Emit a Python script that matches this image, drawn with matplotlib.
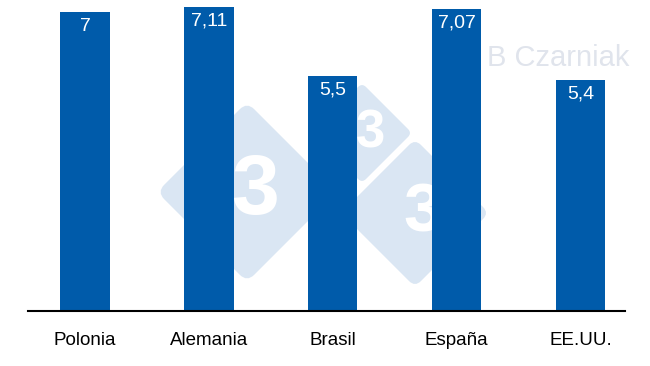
import matplotlib
matplotlib.use("Agg")
import matplotlib.pyplot as plt
from matplotlib.patches import FancyBboxPatch
from matplotlib.transforms import Affine2D

plt.rcParams['font.family'] = ['Liberation Sans', 'DejaVu Sans']

countries = ['Polonia', 'Alemania', 'Brasil', 'España', 'EE.UU.']
values = [7, 7.11, 5.5, 7.07, 5.4]
value_labels = ['7', '7,11', '5,5', '7,07', '5,4']

bar_color = '#005baa'
mark_color = '#dae6f3'

fig = plt.figure(figsize=(6.5, 3.66), dpi=100)

# watermark layer, in pixel coordinates
bg = fig.add_axes([0, 0, 1, 1], zorder=0)
bg.set_xlim(0, 650)
bg.set_ylim(366, 0)
bg.axis('off')

for cx, cy, half, fs in [(247, 192, 90, 62), (362, 133, 50, 38), (415, 213, 74, 50)]:
    side = half * 2 ** 0.5
    box = FancyBboxPatch((-side / 2, -side / 2), side, side,
                         boxstyle='round,pad=0,rounding_size=%f' % (side * 0.08),
                         fc=mark_color, ec='none',
                         transform=Affine2D().rotate_deg(45).translate(cx, cy) + bg.transData)
    bg.add_patch(box)
    bg.text(cx + 8, cy, '3', color='white', fontsize=fs, fontweight='bold',
            ha='center', va='center')

bg.text(558, 58, 'B Czarniak', color='#e0e4ec', fontsize=21, ha='center', va='center')

ax = fig.add_axes([28 / 650, 55 / 366, 597 / 650, 311 / 366], zorder=1)
ax.patch.set_alpha(0)
x = range(len(countries))
ax.bar(x, values, width=0.4, color=bar_color)
for i, (v, lab) in enumerate(zip(values, value_labels)):
    ax.annotate(lab, (i, v), xytext=(0, -4), textcoords='offset points',
                ha='center', va='top', color='white', fontsize=14)

ax.set_xlim(-0.46, 4.36)
ax.set_ylim(0, 7.28)
ax.set_xticks(list(x))
ax.set_xticklabels(countries, fontsize=13.5)
ax.tick_params(axis='x', length=0, pad=15)
ax.set_yticks([])
for s in ['top', 'right', 'left']:
    ax.spines[s].set_visible(False)
ax.spines['bottom'].set_linewidth(1.5)

fig.savefig('out.png', dpi=100)
